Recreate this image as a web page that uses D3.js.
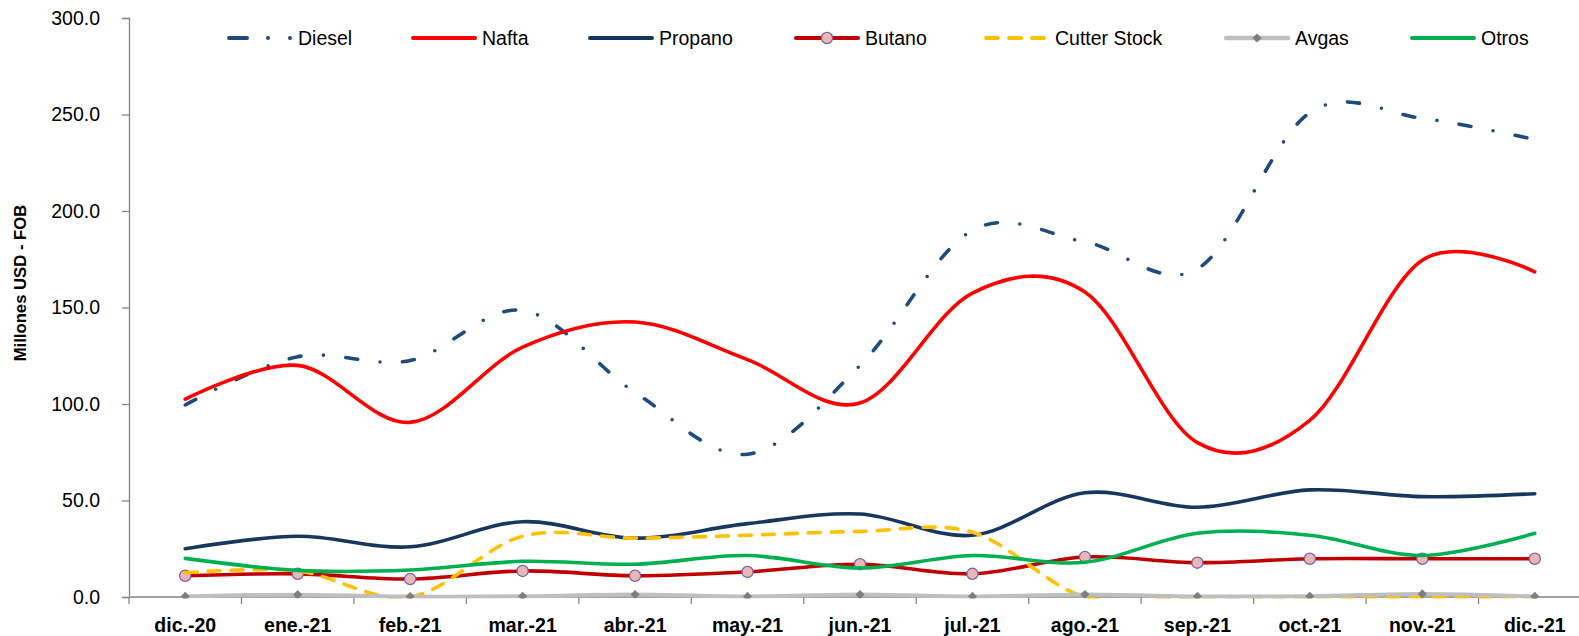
<!DOCTYPE html>
<html><head><meta charset="utf-8">
<script src="https://cdn.jsdelivr.net/npm/d3@7"></script>
<style>
html,body{margin:0;padding:0;background:#fff;}
svg{display:block;font-family:"Liberation Sans",Arial,sans-serif;}
</style></head>
<body><svg id="c" width="1579" height="636"></svg>
<script>
const categories = ["dic.-20","ene.-21","feb.-21","mar.-21","abr.-21","may.-21","jun.-21","jul.-21","ago.-21","sep.-21","oct.-21","nov.-21","dic.-21"];
const diesel  = [99.5,124.5,122.5,148.5,106,74,120,190,184,170,251,248,237];
const nafta   = [102.5,120,90.5,129.5,142.5,123,100.5,157.5,158,80,91.5,174.5,168.5];
const propano = [25,31.5,26,39,30.5,38,43,32,54,46.5,55.5,52,53.5];
const butano  = [11,12,9.3,13.5,11,13,17,12,20.7,17.8,19.8,19.8,19.8];
const cutter  = [12.5,13.5,0,31.5,30.5,32,34,33.5,0,0,0,0,0];
const avgas   = [0.3,1.2,0.2,0.4,1.3,0.3,1.3,0.3,1.3,0.3,0.4,1.6,0.3];
const otros   = [20,13.8,14,18.5,17,21.5,15,21.5,18,33,32,21.5,33];
const yTicks  = [0,50,100,150,200,250,300];
const yTitle  = "Millones USD - FOB";

const series = [
  {name:"Diesel", values:diesel, color:"#1F4A80", width:3.6, dash:"12,22.5,0,22.5", legDash:"18,21,0,22,0,60"},
  {name:"Nafta", values:nafta, color:"#FF0000", width:3.6},
  {name:"Propano", values:propano, color:"#17375E", width:3.6},
  {name:"Butano", values:butano, color:"#C00000", width:3.6, marker:"circle"},
  {name:"Cutter Stock", values:cutter, color:"#FFC000", width:3.6, dash:"12,11", legDash:"12,11"},
  {name:"Avgas", values:avgas, color:"#BFBFBF", width:4, marker:"diamond"},
  {name:"Otros", values:otros, color:"#00B050", width:3.6}
];
// legend layout (left edge of each legend sample line)
const legendX = [227,411,588,794,984,1224,1410];

const svg = d3.select("#c");
const x = d3.scaleBand().domain(categories).range([129,1591]).padding(0);
const cx = d => x(d) + x.bandwidth()/2;
const y = d3.scaleLinear().domain([0,300]).range([597,18]);
const axisColor = "#868686";

svg.append("defs").append("clipPath").attr("id","clip")
  .append("rect").attr("x",129).attr("y",0).attr("width",1579-129).attr("height",598.6);

// y axis
const ya = svg.append("g").attr("transform","translate(129,0)")
  .call(d3.axisLeft(y).tickValues(yTicks).tickFormat(d3.format(".1f")).tickSize(7).tickPadding(22));
ya.select(".domain").attr("stroke",axisColor).attr("stroke-width",1.3);
ya.selectAll(".tick line").attr("stroke",axisColor).attr("stroke-width",1.3);
ya.selectAll(".tick text").attr("font-size",19.5).attr("fill","#000").attr("font-family","Liberation Sans, Arial, sans-serif");

// x axis
const xa = svg.append("g");
xa.append("line").attr("x1",129).attr("x2",1591).attr("y1",y(0)).attr("y2",y(0))
  .attr("stroke",axisColor).attr("stroke-width",1.3);
const bounds = categories.map(d=>x(d)).concat([x(categories[categories.length-1])+x.bandwidth()]);
xa.selectAll("line.tk").data(bounds).enter().append("line").attr("class","tk")
  .attr("x1",d=>d).attr("x2",d=>d)
  .attr("y1",y(0)).attr("y2",y(0)+7).attr("stroke",axisColor).attr("stroke-width",1.3);
xa.selectAll("text").data(categories).enter().append("text")
  .attr("x",d=>cx(d)).attr("y",632).attr("text-anchor","middle")
  .attr("font-size",19.5).attr("font-weight","bold").text(d=>d);

// y title
svg.append("text").attr("transform","translate(26,283) rotate(-90)")
  .attr("text-anchor","middle").attr("font-size",16.7).attr("font-weight","bold").text(yTitle);

// lines
const line = d3.line().x((d,i)=>cx(categories[i])).y(d=>y(d)).curve(d3.curveCardinal.tension(0));
const plot = svg.append("g").attr("clip-path","url(#clip)");
const diamond = d3.symbol().type(d3.symbolSquare).size(42);
series.forEach(s=>{
  const g = plot.append("g");
  g.append("path").attr("d",line(s.values)).attr("fill","none").attr("stroke",s.color)
    .attr("stroke-width",s.width).attr("stroke-linecap","round").attr("stroke-linejoin","round")
    .attr("stroke-dasharray",s.dash||null);
  if(s.marker==="circle"){
    g.selectAll("circle").data(s.values).enter().append("circle")
      .attr("cx",(d,i)=>cx(categories[i])).attr("cy",d=>y(d)).attr("r",5.6)
      .attr("fill","#E6B9B8").attr("stroke","#7F60A0").attr("stroke-width",1.3);
  } else if(s.marker==="diamond"){
    g.selectAll("path.m").data(s.values).enter().append("path").attr("class","m")
      .attr("d",diamond).attr("fill","#7F7F7F")
      .attr("transform",(d,i)=>`translate(${cx(categories[i])},${y(d)}) rotate(45)`);
  }
});

// legend
const leg = svg.append("g");
const ly = 38;
series.forEach((s,k)=>{
  const lx = legendX[k];
  const g = leg.append("g");
  g.append("line").attr("x1",lx+2).attr("x2",lx+(s.legDash && s.name==="Diesel" ? 66 : 64)).attr("y1",ly).attr("y2",ly)
    .attr("stroke",s.color).attr("stroke-width",s.width+0.4).attr("stroke-linecap","round")
    .attr("stroke-dasharray",s.legDash||null);
  if(s.marker==="circle"){
    g.append("circle").attr("cx",lx+33).attr("cy",ly).attr("r",5.6)
      .attr("fill","#E6B9B8").attr("stroke","#7F60A0").attr("stroke-width",1.3);
  } else if(s.marker==="diamond"){
    g.append("path").attr("d",diamond).attr("fill","#7F7F7F")
      .attr("transform",`translate(${lx+33},${ly}) rotate(45)`);
  }
  g.append("text").attr("x",lx+71).attr("y",ly+7).attr("font-size",19.5).text(s.name);
});
</script></body></html>
